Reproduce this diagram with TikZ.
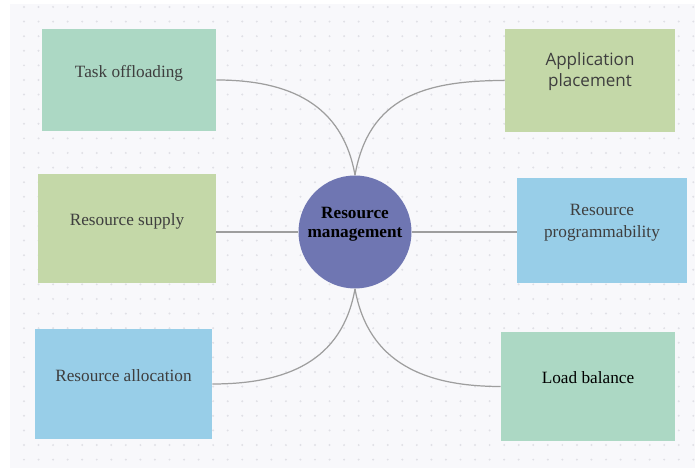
\documentclass[tikz,border=0pt]{standalone}
\usepackage{fontspec}
\setmainfont{Liberation Serif}
\newfontfamily\opensans{Open Sans}
\definecolor{mint}{RGB}{172,216,196}
\definecolor{leaf}{RGB}{196,216,168}
\definecolor{sky}{RGB}{152,206,232}
\definecolor{indigo}{RGB}{111,118,178}
\definecolor{paper}{RGB}{248,248,251}
\definecolor{dotgrey}{RGB}{224,224,230}
\definecolor{wire}{RGB}{158,158,158}
\definecolor{ink}{RGB}{62,62,62}
\tikzset{%
  box/.style = {rectangle,draw=none,inner sep=2pt,align=center,text=ink,
        font=\fontsize{9.8pt}{12pt}\selectfont,text depth=10pt},
  hub/.style = {circle,fill=indigo,minimum size=2.26cm,inner sep=0pt,
        align=center,font=\bfseries\fontsize{9.8pt}{10.8pt}\selectfont,
        text depth=11.5pt},
  link/.style = {draw=wire,line width=0.7pt}
}

\begin{document}
\begin{tikzpicture}
        \useasboundingbox (0,0) rectangle (13.9,9.36);
        % sheet with dot grid
        \fill[paper] (0.2,0) rectangle (13.9,9.28);
        \foreach \i in {0,...,46}
          \foreach \j in {0,...,31}
            \fill[dotgrey] (0.48+0.291*\i,9.22-0.292*\j) circle (0.022);
        % topics
        \node[box,fill=mint,minimum width=3.48cm,minimum height=2.04cm] (task) at (2.58,7.76) {Task offloading};
        \node[box,fill=leaf,minimum width=3.56cm,minimum height=2.18cm] (supply) at (2.54,4.79) {Resource supply};
        \node[box,fill=sky,minimum width=3.54cm,minimum height=2.2cm] (alloc) at (2.47,1.68) {Resource allocation};
        \node[box,fill=leaf,minimum width=3.4cm,minimum height=2.06cm,font=\opensans\fontsize{9.7pt}{12pt}\selectfont,text depth=12pt] (place) at (11.8,7.75) {Application\\placement};
        \node[box,fill=sky,minimum width=3.4cm,minimum height=2.1cm,text depth=11pt] (prog) at (12.04,4.75) {Resource\\programmability};
        \node[box,fill=mint,minimum width=3.48cm,minimum height=2.18cm,text=black] (balance) at (11.76,1.63) {Load balance};
        % centre
        \node[hub] (hub) at (7.1,4.72) {Resource\\management};
        % links
        \draw[link] (hub.north) to[out=100,in=0,looseness=1.1] (task.east);
        \draw[link] (hub.north) to[out=80,in=180,looseness=1.15] (place.west);
        \draw[link] (hub.west) -- (hub.west -| supply.east);
        \draw[link] (hub.east) -- (hub.east -| prog.west);
        \draw[link] (hub.south) to[out=-100,in=0,looseness=1.1] (alloc.east);
        \draw[link] (hub.south) to[out=-80,in=180,looseness=1.1] (balance.west);
\end{tikzpicture}
\end{document}
